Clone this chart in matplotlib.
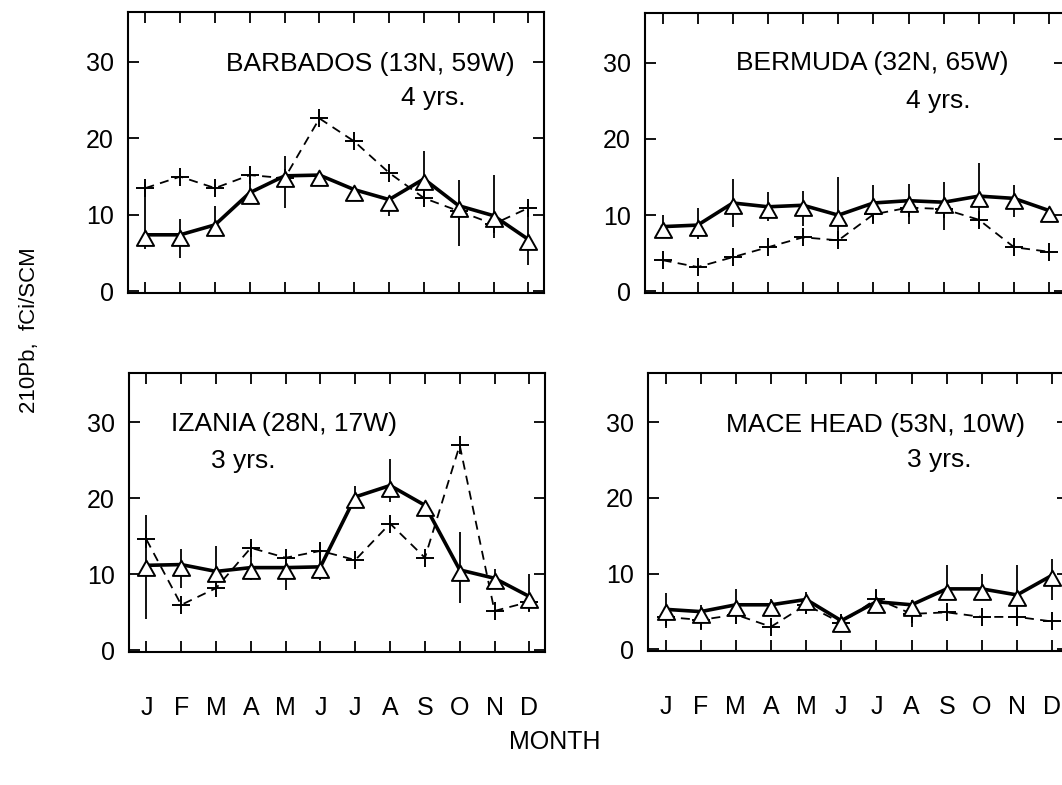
import numpy as np
import matplotlib
matplotlib.use("Agg")
import matplotlib.pyplot as plt
from matplotlib.path import Path

plt.rcParams['font.family'] = ['Liberation Sans', 'DejaVu Sans']

months = ["J", "F", "M", "A", "M", "J", "J", "A", "S", "O", "N", "D"]
yticks = [0, 10, 20, 30]

# Barbados
barb_solid = [7.4, 7.4, 8.7, 12.9, 15.1, 15.2, 13.3, 12.0, 14.7, 11.2, 9.9, 6.8]
barb_lo = [5.5, 4.4, 7.3, 11.8, 10.9, 15.2, 13.3, 9.9, 11.6, 6.0, 7.0, 3.5]
barb_hi = [14.3, 9.4, 11.2, 16.4, 17.7, 15.2, 13.3, 12.2, 18.4, 14.6, 15.2, 11.6]
barb_dash = [13.5, 15.0, 13.5, 15.2, 14.8, 22.6, 19.6, 15.5, 12.2, 10.5, 8.8, 10.9]

# Bermuda
berm_solid = [8.5, 8.7, 11.6, 11.1, 11.3, 10.0, 11.6, 11.9, 11.7, 12.5, 12.2, 10.6]
berm_lo = [7.1, 6.9, 8.4, 9.3, 8.6, 6.0, 8.8, 8.8, 8.1, 8.4, 9.7, 10.6]
berm_hi = [10.0, 10.9, 14.7, 13.0, 13.2, 15.0, 14.0, 14.1, 14.3, 16.8, 14.0, 10.6]
berm_dash = [4.1, 3.2, 4.5, 5.8, 7.1, 6.7, 10.1, 11.0, 10.8, 9.4, 5.8, 5.2]

# Izania
izan_solid = [11.2, 11.3, 10.4, 10.9, 10.9, 11.0, 20.2, 21.7, 19.1, 10.6, 9.5, 7.1]
izan_lo = [4.2, 8.2, 8.8, 9.3, 8.0, 9.3, 18.7, 19.5, 19.1, 6.2, 8.4, 5.1]
izan_hi = [17.8, 13.4, 13.7, 14.3, 12.8, 14.1, 21.7, 25.2, 19.1, 15.6, 10.7, 10.1]
izan_dash = [14.6, 6.0, 8.2, 13.5, 12.2, 13.1, 11.9, 16.7, 12.2, 27.0, 5.2, 6.4]

# Mace Head
mace_solid = [5.3, 5.0, 5.9, 5.9, 6.6, 3.8, 6.3, 5.9, 8.0, 8.0, 7.2, 9.8]
mace_lo = [2.8, 2.6, 3.9, 5.2, 4.8, 3.8, 5.4, 3.0, 6.9, 6.9, 3.5, 6.5]
mace_hi = [7.5, 5.9, 8.0, 6.6, 7.6, 3.8, 8.0, 6.5, 11.1, 10.0, 11.2, 12.0]
mace_dash = [4.3, 3.9, 4.6, 3.0, 5.9, 3.5, 6.7, 4.7, 4.9, 4.3, 4.3, 3.7]

x = np.arange(1, 13)

# triangle hanging just below the line vertex
tri = Path([(0, 0.35), (-0.62, -0.75), (0.62, -0.75), (0, 0.35)],
           [Path.MOVETO, Path.LINETO, Path.LINETO, Path.CLOSEPOLY])

fig = plt.figure(figsize=(10.62, 7.85), dpi=100)

# panel boxes in pixels: left, top, right, bottom
panels = [
    (128, 12, 544, 293, "BARBADOS (13N, 59W)", "4 yrs.", (7.47, 29.7), (9.28, 25.3),
     barb_solid, barb_lo, barb_hi, barb_dash, False),
    (645, 13, 1065, 293, "BERMUDA (32N, 65W)", "4 yrs.", (6.98, 29.9), (8.83, 25.0),
     berm_solid, berm_lo, berm_hi, berm_dash, False),
    (129, 373, 545, 652, "IZANIA (28N, 17W)", "3 yrs.", (4.96, 29.8), (3.79, 24.9),
     izan_solid, izan_lo, izan_hi, izan_dash, True),
    (648, 373, 1068, 651, "MACE HEAD (53N, 10W)", "3 yrs.", (6.97, 29.6), (8.8, 25.0),
     mace_solid, mace_lo, mace_hi, mace_dash, True),
]

W, H = 1062, 785
for (l, t, r, b, title, yrs, tpos, ypos, solid, lo, hi, dash, bottom) in panels:
    ax = fig.add_axes([l / W, 1 - b / H, (r - l) / W, (b - t) / H])
    solid = np.array(solid)
    yerr = [np.abs(solid - np.array(lo)), np.abs(np.array(hi) - solid)]
    ax.errorbar(x, solid, yerr=yerr, fmt="none", ecolor="black", elinewidth=1.3, capsize=0)
    ax.plot(x, dash, color="black", lw=1.3, linestyle=(0, (5, 3.5)),
            marker="+", markersize=13, markeredgewidth=1.4)
    ax.plot(x, solid, color="black", lw=2.6, marker=tri, markersize=15,
            markerfacecolor="white", markeredgecolor="black", markeredgewidth=1.4)
    ax.text(tpos[0], tpos[1], title, ha="center", va="center", fontsize=19)
    ax.text(ypos[0], ypos[1], yrs, ha="center", va="center", fontsize=19)

    ax.set_xlim(0.5, 12.45)
    ax.set_ylim(-0.2, 36.5)
    ax.set_yticks(yticks)
    ax.set_xticks(x)
    ax.tick_params(direction="in", length=8, width=1.3, top=True, right=True,
                   labelsize=18)
    ax.tick_params(axis="y", pad=10)
    if bottom:
        ax.set_xticklabels(months)
        ax.tick_params(axis="x", pad=32)
    else:
        ax.set_xticklabels([])
    for s in ax.spines.values():
        s.set_linewidth(1.5)

fig.text(555 / W, 1 - 742 / H, "MONTH", ha="center", va="center", fontsize=18)
fig.text(30 / W, 1 - 330 / H, "210Pb,  fCi/SCM", ha="center", va="center",
         rotation=90, fontsize=16)

fig.savefig("out.png", dpi=100)
